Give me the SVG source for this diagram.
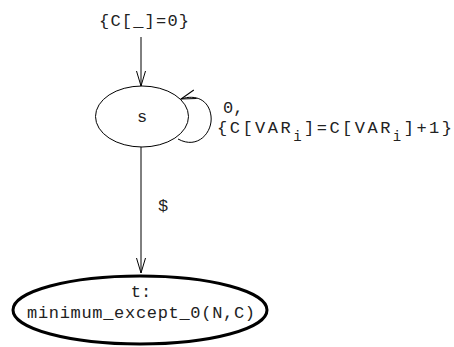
<svg xmlns="http://www.w3.org/2000/svg" width="454" height="347" viewBox="0 0 454 347">
<style>
text{font-family:"Liberation Mono","Courier New",monospace;font-size:17px;fill:#222}
.e{fill:none;stroke:#000;stroke-width:1}
.arr{fill:none;stroke:#000;stroke-width:1}
</style>
<defs>
<marker id="v" markerWidth="16" markerHeight="12" refX="15" refY="5" orient="auto" markerUnits="userSpaceOnUse">
<path d="M0,0.5 L15,5 L0,9.5" fill="none" stroke="#000" stroke-width="1"/>
</marker>
</defs>
<rect width="454" height="347" fill="#fff"/>
<g id="connectors">
<path class="arr" d="M141,37 L141,86" marker-end="url(#v)"/>
<text x="99" y="26" textLength="90" lengthAdjust="spacing">{C[_]=0}</text>
<path class="arr" d="M178,139 C198,150 213,132 211,116 C209,100 196,94 181,99" marker-end="url(#v)"/>
<text x="223" y="113">0,</text>
<text x="217" y="133" textLength="235" lengthAdjust="spacing">{C[VAR<tspan dy="8" font-size="14">i</tspan><tspan dy="-8">]=C[VAR</tspan><tspan dy="8" font-size="14">i</tspan><tspan dy="-8">]+1}</tspan></text>
<path class="arr" d="M141,147 L141,273" marker-end="url(#v)"/>
<text x="158" y="211">$</text>
</g>
<g id="node-s">
<ellipse class="e" cx="142" cy="116.5" rx="46.5" ry="30.5"/>
<text x="142" y="122" text-anchor="middle">s</text>
</g>
<g id="node-t">
<ellipse cx="140" cy="310" rx="127" ry="34" fill="none" stroke="#000" stroke-width="3"/>
<text x="141" y="297" text-anchor="middle">t:</text>
<text x="27" y="318" textLength="228" lengthAdjust="spacing">minimum_except_0(N,C)</text>
</g>
</svg>
